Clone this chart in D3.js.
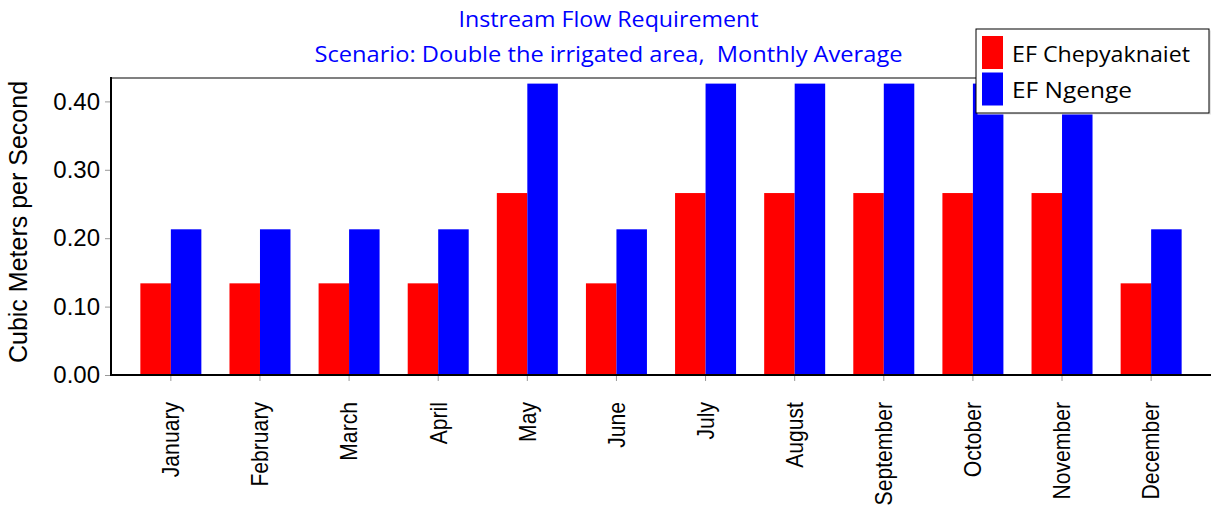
<!DOCTYPE html>
<html>
<head>
<meta charset="utf-8">
<script src="https://cdn.jsdelivr.net/npm/d3@7"></script>
<style>
  body { margin: 0; background: #fff; }
  svg { display: block; }
</style>
</head>
<body>
<script>
var months = ["January", "February", "March", "April", "May", "June",
              "July", "August", "September", "October", "November", "December"];
var seriesNames = ["EF Chepyaknaiet", "EF Ngenge"];
var chepyaknaiet = [0.134, 0.134, 0.134, 0.134, 0.266, 0.134, 0.266, 0.266, 0.266, 0.266, 0.266, 0.134];
var ngenge = [0.213, 0.213, 0.213, 0.213, 0.426, 0.213, 0.426, 0.426, 0.426, 0.426, 0.426, 0.213];
var yTicks = [0, 0.1, 0.2, 0.3, 0.4];
var seriesColors = ["#ff0000", "#0000ff"];
var titleLines = ["Instream Flow Requirement", "Scenario: Double the irrigated area,\u00a0 Monthly Average"];

var w = 1211;
var h = 505;
var plotLeft = 111, plotRight = 1211, plotTop = 78, plotBottom = 375;

var svg = d3.select("body")
			.append("svg")
			.attr("width", w)
			.attr("height", h);

var yScale = d3.scaleLinear()
				.domain([0, 0.4342])
				.range([plotBottom, plotTop]);

var x0 = d3.scaleBand()
			.domain(months)
			.range([plotLeft + 15.3, plotRight - 15.3]);

var x1 = d3.scaleBand()
			.domain(seriesNames)
			.range([0, x0.bandwidth()])
			.paddingOuter(0.461);

var rows = months.map(function(m, i){
	return { month: m, values: [chepyaknaiet[i], ngenge[i]] };
});

// bars
var groups = svg.selectAll(".month")
			.data(rows)
			.enter()
			.append("g")
			.attr("class", "month")
			.attr("transform", function(d){ return "translate(" + x0(d.month) + ",0)"; });

groups.selectAll("rect")
	.data(function(d){ return d.values.map(function(v, j){ return { name: seriesNames[j], value: v, j: j }; }); })
	.enter()
	.append("rect")
	.attr("x", function(d){ return x1(d.name); })
	.attr("width", x1.bandwidth())
	.attr("y", function(d){ return yScale(d.value); })
	.attr("height", function(d){ return yScale(0) - yScale(d.value); })
	.attr("fill", function(d){ return seriesColors[d.j]; });

// top frame line
svg.append("line")
	.attr("x1", plotLeft).attr("x2", plotRight)
	.attr("y1", plotTop).attr("y2", plotTop)
	.attr("stroke", "#808080")
	.attr("stroke-width", 2);

// y axis
var yAxis = d3.axisLeft(yScale)
			.tickValues(yTicks)
			.tickFormat(d3.format(".2f"))
			.tickSize(6)
			.tickPadding(5);

var gy = svg.append("g")
			.attr("transform", "translate(" + plotLeft + ",0)")
			.call(yAxis);
gy.select(".domain").remove();
gy.selectAll(".tick line").attr("stroke", "#999");
gy.selectAll(".tick text")
	.attr("font-family", "'Liberation Sans', Arial, sans-serif")
	.attr("font-size", 24)
	.attr("fill", "#000");

// x axis
var xAxis = d3.axisBottom(x0)
			.tickSize(6)
			.tickFormat("");

var gx = svg.append("g")
			.attr("transform", "translate(0," + plotBottom + ")")
			.call(xAxis);
gx.select(".domain").remove();
gx.selectAll(".tick line").attr("stroke", "#999");

svg.selectAll(".xlabel")
	.data(months)
	.enter()
	.append("text")
	.attr("class", "xlabel")
	.attr("transform", function(d){ return "translate(" + (x0(d) + x0.bandwidth() / 2) + ",402) rotate(-90) scale(0.92,1)"; })
	.attr("text-anchor", "end")
	.attr("dy", "0.36em")
	.attr("font-family", "'Liberation Sans', Arial, sans-serif")
	.attr("font-size", 23)
	.attr("fill", "#000")
	.text(function(d){ return d; });

// axis lines
svg.append("line")
	.attr("x1", plotLeft).attr("x2", plotLeft)
	.attr("y1", plotTop - 1).attr("y2", plotBottom + 1)
	.attr("stroke", "#000")
	.attr("stroke-width", 2);
svg.append("line")
	.attr("x1", plotLeft).attr("x2", plotRight)
	.attr("y1", plotBottom).attr("y2", plotBottom)
	.attr("stroke", "#000")
	.attr("stroke-width", 2);

// y axis title
svg.append("text")
	.attr("transform", "translate(26.5,222) rotate(-90)")
	.attr("text-anchor", "middle")
	.attr("font-family", "'Liberation Sans', Arial, sans-serif")
	.attr("font-size", 25)
	.attr("fill", "#000")
	.text("Cubic Meters per Second");

// titles
var titleWidths = [300, 588];
svg.selectAll(".title")
	.data(titleLines)
	.enter()
	.append("text")
	.attr("class", "title")
	.attr("x", 608.5)
	.attr("y", function(d, i){ return 27 + i * 35; })
	.attr("text-anchor", "middle")
	.attr("font-family", "'Open Sans', 'Noto Sans', sans-serif")
	.attr("font-size", 22)
	.attr("fill", "#0000ff")
	.attr("textLength", function(d, i){ return titleWidths[i]; })
	.attr("lengthAdjust", "spacingAndGlyphs")
	.text(function(d){ return d; });

// legend
var legend = svg.append("g")
			.attr("transform", "translate(976,29)");

legend.append("rect")
	.attr("x", 1.5).attr("y", 1.5)
	.attr("width", 234).attr("height", 84)
	.attr("fill", "#e4e4e4");
legend.append("rect")
	.attr("x", 0).attr("y", 0)
	.attr("width", 233).attr("height", 84)
	.attr("fill", "#fff")
	.attr("stroke", "#000")
	.attr("stroke-width", 1);

var legendWidths = [178, 120];
var items = legend.selectAll(".item")
			.data(seriesNames)
			.enter()
			.append("g")
			.attr("class", "item")
			.attr("transform", function(d, i){ return "translate(0," + (i * 36.5) + ")"; });

items.append("rect")
	.attr("x", 6).attr("y", 7)
	.attr("width", 21).attr("height", 33)
	.attr("fill", function(d, i){ return seriesColors[i]; });

items.append("text")
	.attr("x", 36)
	.attr("y", 32.5)
	.attr("font-family", "'Open Sans', 'Noto Sans', sans-serif")
	.attr("font-size", 21)
	.attr("fill", "#000")
	.attr("textLength", function(d, i){ return legendWidths[i]; })
	.attr("lengthAdjust", "spacingAndGlyphs")
	.text(function(d){ return d; });
</script>
</body>
</html>
